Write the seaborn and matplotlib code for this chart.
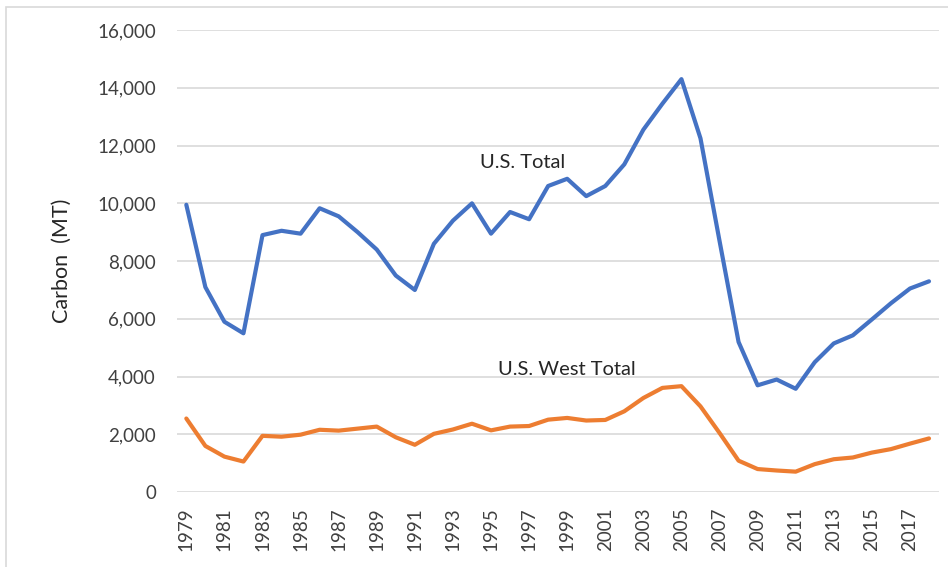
import numpy as np
import pandas as pd
import matplotlib
matplotlib.use("Agg")
import matplotlib.pyplot as plt
import seaborn as sns
from matplotlib.ticker import FuncFormatter
from matplotlib.patches import Rectangle

years = list(range(1979, 2019))
us_total = [9950, 7100, 5900, 5500, 8900, 9050, 8950, 9830, 9550, 9000,
            8400, 7500, 7000, 8600, 9400, 10000, 8950, 9700, 9450, 10600,
            10850, 10250, 10600, 11350, 12550, 13450, 14300, 12250, 8700, 5200,
            3700, 3900, 3580, 4500, 5150, 5430, 5980, 6540, 7050, 7300]
us_west_total = [2550, 1600, 1230, 1060, 1950, 1920, 1990, 2160, 2130, 2200,
                 2270, 1900, 1640, 2020, 2170, 2370, 2140, 2270, 2290, 2510,
                 2570, 2480, 2500, 2800, 3260, 3610, 3670, 2970, 2050, 1090,
                 800, 750, 710, 970, 1140, 1200, 1370, 1490, 1680, 1860]
series_labels = ["U.S. Total", "U.S. West Total"]
y_ticks = [0, 2000, 4000, 6000, 8000, 10000, 12000, 14000, 16000]
x_tick_years = years[::2]
y_label = "Carbon  (MT)"

sns.set_theme(style="white")
plt.rcParams['font.family'] = ['Lato', 'DejaVu Sans']

fig = plt.figure(figsize=(9.48, 5.67), dpi=100)
ax = fig.add_axes([0.1865, 0.132, 0.8035, 0.815])

df = pd.DataFrame({"year": years, series_labels[0]: us_total, series_labels[1]: us_west_total})
sns.lineplot(data=df, x="year", y=series_labels[0], ax=ax, color="#4472C4", linewidth=3.0)
sns.lineplot(data=df, x="year", y=series_labels[1], ax=ax, color="#ED7D31", linewidth=3.0)

ax.set_xlim(years[0] - 0.5, years[-1] + 0.5)
ax.set_ylim(y_ticks[0], y_ticks[-1])
ax.set_yticks(y_ticks)
ax.yaxis.set_major_formatter(FuncFormatter(lambda v, p: f"{int(v):,}"))
ax.set_xticks(x_tick_years)
ax.set_xticklabels([str(y) for y in x_tick_years], rotation=90)
ax.tick_params(axis="both", length=0, labelsize=13.5, colors="#404040")
ax.tick_params(axis="y", pad=15)
ax.tick_params(axis="x", pad=11)
ax.grid(axis="y", color="#D9D9D9", linewidth=1.2)
ax.grid(axis="x", visible=False)
for s in ax.spines.values():
    s.set_visible(False)
ax.set_xlabel("")
ax.set_ylabel(y_label, fontsize=15.5, color="#262626", labelpad=18)

ax.text(1994.4, 11430, series_labels[0], fontsize=14.5, color="#262626", va="center", ha="left")
ax.text(1995.35, 4250, series_labels[1], fontsize=14.5, color="#262626", va="center", ha="left")

fig.patches.append(Rectangle((6 / 948, -0.1), 1.2, 1 - 7 / 567 + 0.1, transform=fig.transFigure,
                             fill=False, edgecolor="#D9D9D9", linewidth=1.2, zorder=0))

fig.savefig("out.png", dpi=100)
